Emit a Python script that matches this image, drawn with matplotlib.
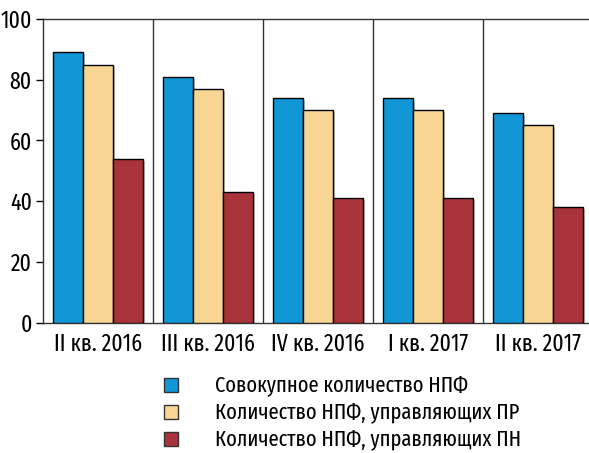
import matplotlib
matplotlib.use("Agg")
import matplotlib.pyplot as plt
import matplotlib.patheffects as pe
from matplotlib.patches import Rectangle
import numpy as np

plt.rcParams['font.family'] = ['Fira Sans Extra Condensed', 'DejaVu Sans']

# Data
quarters = ["II кв. 2016", "III кв. 2016", "IV кв. 2016", "I кв. 2017", "II кв. 2017"]
total_npf = [89, 81, 74, 74, 69]
npf_pr = [85, 77, 70, 70, 65]
npf_pn = [54, 43, 41, 41, 38]
series_names = ["Совокупное количество НПФ",
                "Количество НПФ, управляющих ПР",
                "Количество НПФ, управляющих ПН"]
colors = ["#1297d6", "#f8d592", "#a8333a"]

W, H = 589, 453
fig = plt.figure(figsize=(W / 100, H / 100), dpi=100)
# axes runs a bit past the right edge of the picture, like the original
left, right, top, bottom = 43, 593, 19, 322.5
ax = fig.add_axes([left / W, 1 - bottom / H, (right - left) / W, (bottom - top) / H])

x = np.arange(len(quarters))
bw = 0.27
shadow = [pe.SimplePatchShadow(offset=(1.5, -1.5), shadow_rgbFace='#999999', alpha=0.6), pe.Normal()]
for k, vals in enumerate([total_npf, npf_pr, npf_pn]):
    bars = ax.bar(x + (k - 1) * bw, vals, width=bw, color=colors[k],
                  edgecolor='black', linewidth=1.0, zorder=3)
    for b in bars:
        b.set_path_effects(shadow)

# group separators
for g in range(1, len(quarters)):
    ax.axvline(g - 0.5, color='#333333', lw=1.0, zorder=2)

ax.set_xlim(-0.5, len(quarters) - 0.5)
ax.set_ylim(0, 100)
ax.set_yticks([0, 20, 40, 60, 80, 100])
ax.set_xticks(x)
ax.set_xticklabels(quarters)
ax.tick_params(axis='y', length=5, width=1, labelsize=17, pad=3)
ax.tick_params(axis='x', length=0, labelsize=17, pad=7)
for s in ax.spines.values():
    s.set_color('#333333')
    s.set_linewidth(1.0)

# legend
ly = [385, 412, 439]
for k in range(3):
    r = Rectangle((164 / W, 1 - (ly[k] + 7) / H), 14 / W, 14 / H, transform=fig.transFigure,
                  facecolor=colors[k], edgecolor='#333333', lw=1.0)
    fig.patches.append(r)
    fig.text(215 / W, 1 - ly[k] / H, series_names[k], fontsize=16, va='center', ha='left')

fig.savefig("out.png", dpi=100)
